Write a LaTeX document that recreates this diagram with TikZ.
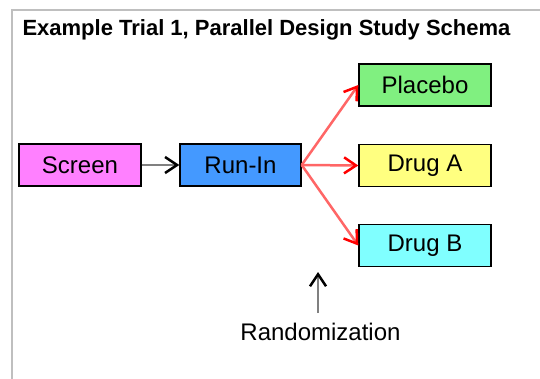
\documentclass[tikz,border=0pt]{standalone}
\usepackage{fontspec}
\setmainfont{Liberation Sans}
\usetikzlibrary{arrows.meta}
\definecolor{screenpink}{HTML}{FF80FF}
\definecolor{runinblue}{HTML}{4499FF}
\definecolor{placebogreen}{HTML}{80F080}
\definecolor{drugayellow}{HTML}{FFFF80}
\definecolor{drugbcyan}{HTML}{80FFFF}
\begin{document}
\begin{tikzpicture}[x = 1pt, y = -1pt,
                    every node/.style = {font = \fontsize{24}{28}\selectfont},
                    arm/.style = {shape = rectangle, draw, line width = 1.4pt,
                                  inner sep = 0pt, minimum height = 42pt},
                    blackarrow/.style = {draw = black!50, line width = 2.5pt,
                      -{Straight Barb[length = 12pt, width = 16pt, line width = 2.5pt, color = black]}},
                    redarrow/.style = {draw = red!60, line width = 2.5pt,
                      -{Straight Barb[length = 12pt, width = 16pt, line width = 2.5pt, color = red]}}]
      \useasboundingbox (0, 0) rectangle (540, 379);
      \draw [color = black!25, line width = 2pt] (12, 379) -- (12, 10.5) -- (540, 10.5);
      \node (title) [anchor = base west, font = \fontsize{22}{26}\selectfont\bfseries]
            at (19, 36) {Example Trial 1, Parallel Design Study Schema};

      \node (screen) [arm, fill = screenpink, minimum width = 122pt] at (80, 165) {Screen};
      \node (runin)  [arm, fill = runinblue, minimum width = 121pt] at (240.5, 165) {Run-In};

      \node (placebo) [arm, fill = placebogreen, minimum width = 132pt] at (425, 85) {Placebo};
      \node (druga)   [arm, fill = drugayellow, minimum width = 132pt] at (425, 165.5) {Drug A};
      \node (drugb)   [arm, fill = drugbcyan, minimum width = 132pt] at (425, 245.5) {Drug B};

      \draw [blackarrow] (screen) -- (runin);
      \draw [redarrow] (runin.east) -- (placebo.west);
      \draw [redarrow] (runin.east) -- (druga.west);
      \draw [redarrow] (runin.east) -- (drugb.west);

      \node (rand) [anchor = base] at (320.5, 340) {Randomization};
      \coordinate (randtip) at (318, 272);
      \draw [blackarrow] (318, 313) -- (randtip);
    \end{tikzpicture}
\end{document}
